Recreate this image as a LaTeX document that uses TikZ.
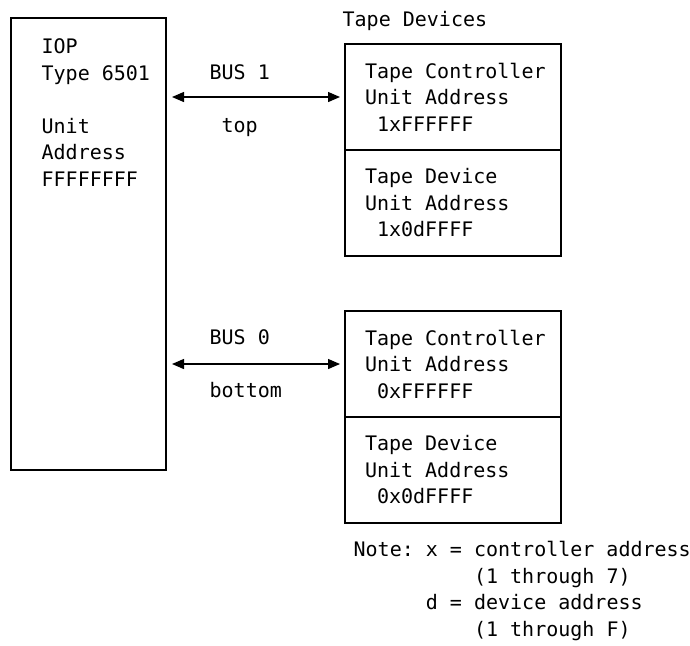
\documentclass[tikz,border=0pt]{standalone}
\usepackage{fontspec}
\setmonofont{DejaVu Sans Mono}
\usetikzlibrary{arrows.meta,positioning}
\protected\def\monospaces{\spaceskip=6.02pt\relax\xspaceskip=6.02pt\relax}

\begin{document}
\begin{tikzpicture}[x=0.5pt, y=-0.5pt, line width=0.65pt,
    every node/.style={font=\ttfamily\fontsize{10}{13.25}\selectfont, inner sep=0pt},
    unitbox/.style={draw, outer sep=0pt, minimum width=108pt, minimum height=53pt,
        text width=88pt, inner xsep=10pt, align=flush left, execute at begin node=\monospaces},
    bus/.style={<->, >={Triangle[length=6pt,width=5pt]}, shorten <=3pt, shorten >=2.5pt}]
    \useasboundingbox (0,0) rectangle (690,645);

    % IOP on the left
    \node[draw, outer sep=0pt, minimum width=77.5pt, minimum height=226pt, anchor=north west] (iop) at (11,18) {};
    \node[anchor=north west, align=left] (iopinfo) at (41,38)
        {IOP\\Type 6501\\[13.25pt]Unit\\Address\\FFFFFFFF};

    % Tape devices, bus 1
    \node[anchor=base west] (title) at (342,26.5) {Tape Devices};
    \node[unitbox, anchor=north west] (ctl1) at (345,44) {Tape~Controller\\Unit Address\\~1xFFFFFF};
    \node[unitbox, below=0pt of ctl1] (dev1) {Tape Device\\Unit Address\\~1x0dFFFF};

    % Tape devices, bus 0
    \node[unitbox, anchor=north west] (ctl0) at (345,311) {Tape~Controller\\Unit Address\\~0xFFFFFF};
    \node[unitbox, below=0pt of ctl0] (dev0) {Tape Device\\Unit Address\\~0x0dFFFF};

    % Buses
    \draw[bus] (iop.east |- ctl1.west) -- (ctl1.west);
    \node[anchor=base west] (bus1) at (209,79.5) {BUS 1};
    \node[anchor=base west] (top) at (221,132.5) {top};

    \draw[bus] (iop.east |- ctl0.west) -- (ctl0.west);
    \node[anchor=base west] (bus0) at (209,344.5) {BUS 0};
    \node[anchor=base west] (bottom) at (209,397.5) {bottom};

    % Note
    \node[anchor=north west, align=left] (note) at (353,541)
        {Note: x = controller address\\
         \phantom{Note: x = }(1 through 7)\\
         \phantom{Note: }d = device address\\
         \phantom{Note: x = }(1 through F)};
\end{tikzpicture}
\end{document}
